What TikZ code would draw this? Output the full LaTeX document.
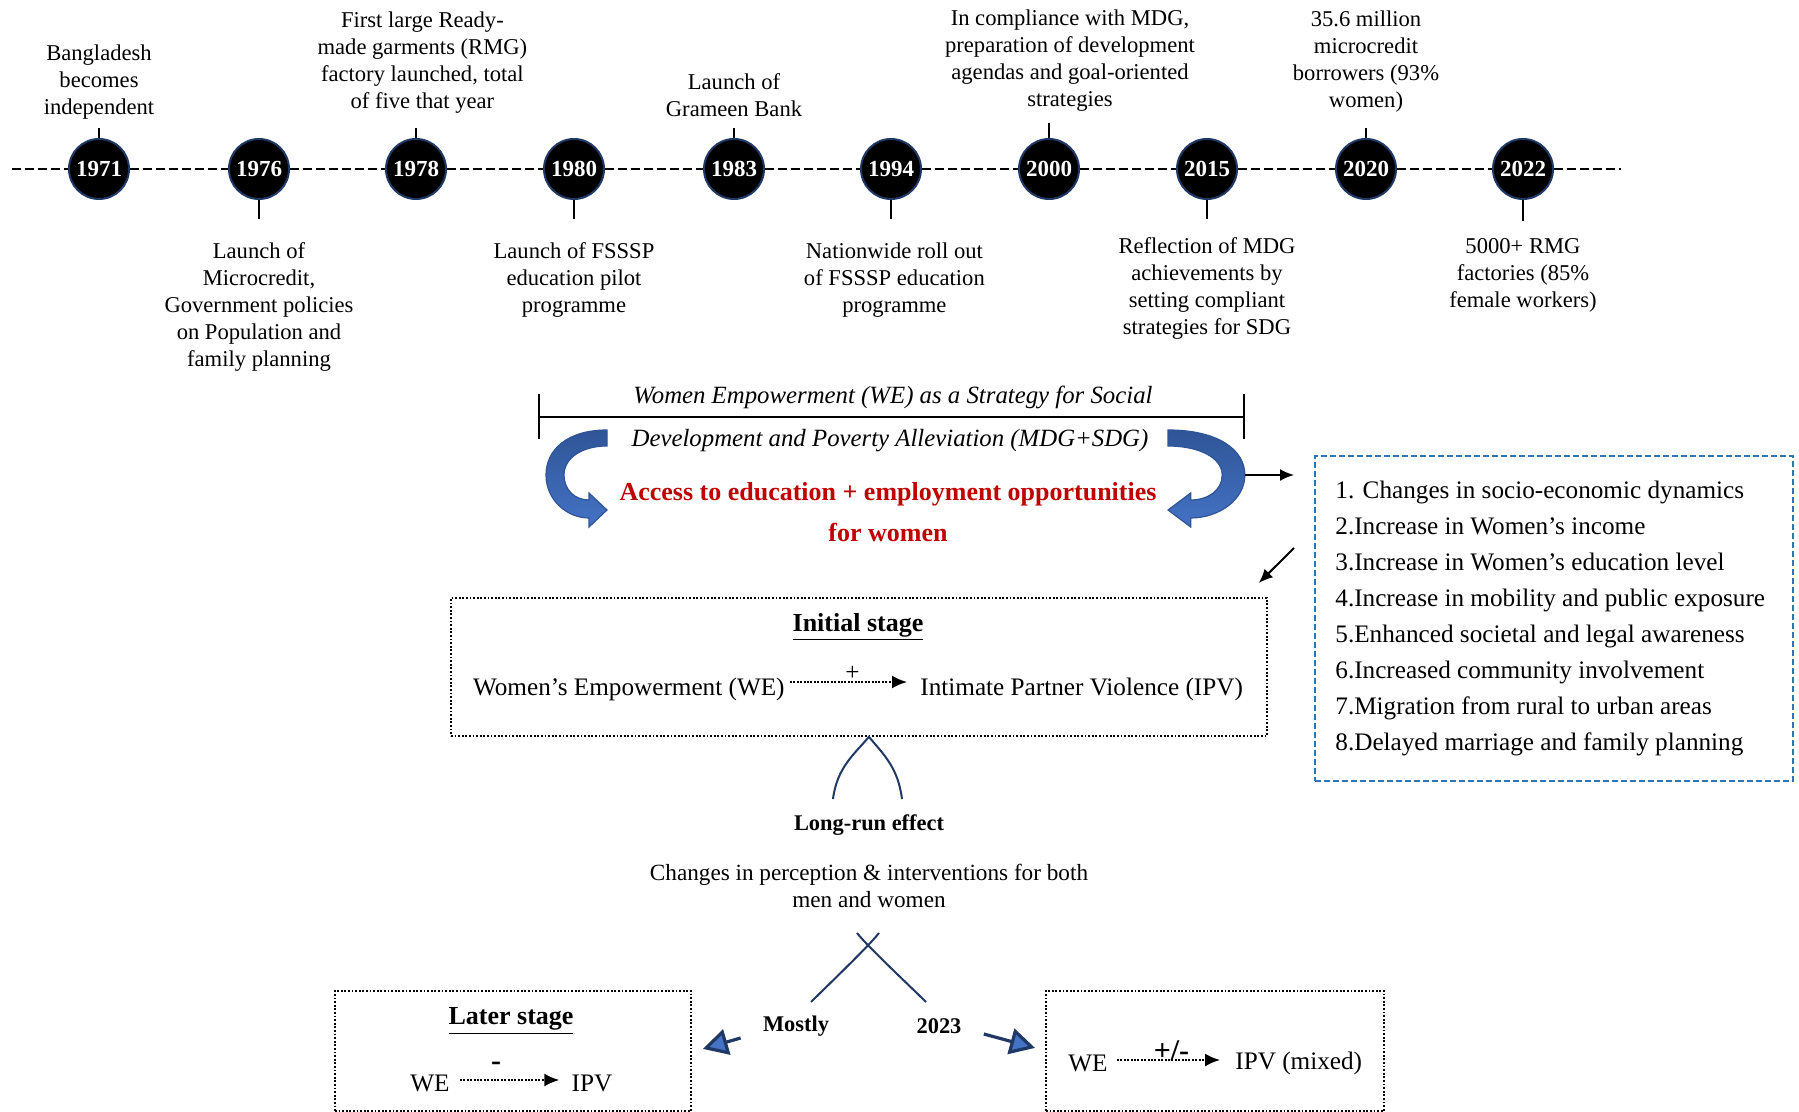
\documentclass[tikz,border=0pt]{standalone}
\usepackage{fontspec}
\setmainfont{Liberation Serif}
\usetikzlibrary{positioning,arrows.meta,calc}
\definecolor{navy}{HTML}{1F3864}
\definecolor{weblue}{HTML}{4472C4}
\definecolor{wedark}{HTML}{2F5597}
\definecolor{boxblue}{HTML}{2E75B6}
\definecolor{wered}{HTML}{C00000}
\tikzstyle{year}=[circle, fill=black, draw=navy, line width=1pt, minimum size=30pt, inner sep=0pt, text=white, font=\fontsize{11.5}{13}\selectfont\bfseries]
\tikzstyle{event}=[align=center, inner sep=0pt, font=\fontsize{11.3}{13.5}\selectfont]
\tikzstyle{tick}=[line width=0.6pt]
\tikzstyle{timeline}=[line width=1pt, dash pattern=on 4.5pt off 2pt]
\tikzstyle{bracket}=[{Bar[width=22.5pt]}-{Bar[width=22.5pt]}, line width=1pt]
\tikzstyle{strategy}=[inner sep=0pt, font=\fontsize{12.4}{14}\selectfont\itshape]
\tikzstyle{access}=[align=center, inner sep=0pt, text=wered, font=\fontsize{13}{20.5}\selectfont\bfseries]
\tikzstyle{curved arrow}=[top color=wedark, bottom color=weblue, draw=wedark, line width=0.6pt]
\tikzstyle{my arrow}=[-{Latex[length=7pt,width=6pt]}, line width=1pt]
\tikzstyle{list box}=[draw=boxblue, line width=1pt, dash pattern=on 3pt off 1.5pt, minimum width=239pt, minimum height=162.5pt, inner sep=0pt]
\tikzstyle{list text}=[align=left, inner sep=0pt, font=\fontsize{12.6}{18}\selectfont]
\tikzstyle{stage box}=[draw, line width=0.9pt, dash pattern=on 0.9pt off 0.9pt, inner sep=0pt]
\tikzstyle{stage title}=[inner sep=0pt, font=\fontsize{13}{14}\selectfont\bfseries]
\tikzstyle{stage text}=[inner sep=0pt, font=\fontsize{12.6}{14}\selectfont]
\tikzstyle{dot arrow}=[-{Latex[length=7.5pt,width=6.5pt]}, line width=1pt, dash pattern=on 1pt off 0.7pt]
\tikzstyle{arch}=[draw=navy, line width=1pt]
\tikzstyle{bold label}=[inner sep=0pt, font=\fontsize{11.2}{13}\selectfont\bfseries]
\tikzstyle{blue arrow}=[draw=navy, line width=1.6pt, -{Triangle[length=12.5pt,width=13pt,fill=weblue]}]

\begin{document}
\begin{tikzpicture}[x=0.5pt,y=-0.5pt]
\useasboundingbox (0,0) rectangle (1799,1112);

% time line
\draw (99,169) node[year] (y1971) {1971};
\draw (y1971) ++(160,0) node[year] (y1976) {1976};
\draw (y1976) ++(157,0) node[year] (y1978) {1978};
\draw (y1978) ++(158,0) node[year] (y1980) {1980};
\draw (y1980) ++(160,0) node[year] (y1983) {1983};
\draw (y1983) ++(157,0) node[year] (y1994) {1994};
\draw (y1994) ++(158,0) node[year] (y2000) {2000};
\draw (y2000) ++(158,0) node[year] (y2015) {2015};
\draw (y2015) ++(159,0) node[year] (y2020) {2020};
\draw (y2020) ++(157,0) node[year] (y2022) {2022};

\coordinate (tlstart) at (12,169);
\coordinate (tlend) at (1621,169);
\draw[timeline] (tlstart) -- (y1971);
\draw[timeline] (y1971) -- (y1976);
\draw[timeline] (y1976) -- (y1978);
\draw[timeline] (y1978) -- (y1980);
\draw[timeline] (y1980) -- (y1983);
\draw[timeline] (y1983) -- (y1994);
\draw[timeline] (y1994) -- (y2000);
\draw[timeline] (y2000) -- (y2015);
\draw[timeline] (y2015) -- (y2020);
\draw[timeline] (y2020) -- (y2022);
\draw[timeline] (y2022) -- (tlend);

% events above
\draw[tick] (y1971.north) -- ++(0,-10);
\draw node[event, above=9.3pt of y1971] (e1971) {Bangladesh\\becomes\\independent};
\draw[tick] (y1978.north) -- ++(0,-10);
\draw node[event, above=12.3pt of y1978, xshift=3.2pt] (e1978) {First large Ready-\\made garments (RMG)\\factory launched, total\\of five that year};
\draw[tick] (y1983.north) -- ++(0,-10);
\draw node[event, above=10.3pt of y1983] (e1983) {Launch of\\Grameen Bank};
\draw[tick] (y2000.north) -- ++(0,-15);
\draw node[event, above=13.3pt of y2000, xshift=10.5pt] (e2000) {In compliance with MDG,\\preparation of development\\agendas and goal-oriented\\strategies};
\draw[tick] (y2020.north) -- ++(0,-10);
\draw node[event, above=12.8pt of y2020] (e2020) {35.6 million\\microcredit\\borrowers (93\%\\women)};

% events below
\draw[tick] (y1976.south) -- ++(0,19);
\draw node[event, below=21.3pt of y1976] (e1976) {Launch of\\Microcredit,\\Government policies\\on Population and\\family planning};
\draw[tick] (y1980.south) -- ++(0,19);
\draw node[event, below=21.3pt of y1980] (e1980) {Launch of FSSSP\\education pilot\\programme};
\draw[tick] (y1994.south) -- ++(0,19);
\draw node[event, below=21.3pt of y1994, xshift=1.7pt] (e1994) {Nationwide roll out\\of FSSSP education\\programme};
\draw[tick] (y2015.south) -- ++(0,19);
\draw node[event, below=18.8pt of y2015] (e2015) {Reflection of MDG\\achievements by\\setting compliant\\strategies for SDG};
\draw[tick] (y2022.south) -- ++(0,21);
\draw node[event, below=19pt of y2022] (e2022) {5000+ RMG\\factories (85\%\\female workers)};

% strategy
\coordinate (brL) at (538,417);
\coordinate (brR) at (1245,417);
\draw[bracket] (brL) -- (brR);
\draw (893,397) node[strategy] (str1) {Women Empowerment (WE) as a Strategy for Social};
\draw (890,441) node[strategy] (str2) {Development and Poverty Alleviation (MDG+SDG)};
\draw (888,512) node[access] (access) {Access to education + employment opportunities\\for women};

\begin{scope}[shift={(607,430)}]
\path[curved arrow] (0,0) .. controls (-40,0) and (-61,20) .. (-61,45) .. controls (-61,70) and (-40,88) .. (-18,88) -- (-18,97) -- (0,80) -- (-18,63) -- (-18,70) .. controls (-32,70) and (-43,60) .. (-43,45) .. controls (-43,28) and (-25,16) .. (0,16) -- cycle;
\end{scope}
\begin{scope}[shift={(1168,430)}, xscale=-1.26]
\path[curved arrow] (0,0) .. controls (-40,0) and (-61,20) .. (-61,45) .. controls (-61,70) and (-40,88) .. (-18,88) -- (-18,97) -- (0,80) -- (-18,63) -- (-18,70) .. controls (-32,70) and (-43,60) .. (-43,45) .. controls (-43,28) and (-25,16) .. (0,16) -- cycle;
\end{scope}

% outcomes
\draw (1314,455) node[list box, anchor=north west] (list) {};
\draw (list.west) ++(21,0) node[list text, anchor=west] (items) {1. Changes in socio-economic dynamics\\2.Increase in Women’s income\\3.Increase in Women’s education level\\4.Increase in mobility and public exposure\\5.Enhanced societal and legal awareness\\6.Increased community involvement\\7.Migration from rural to urban areas\\8.Delayed marriage and family planning};

\coordinate (outR) at (1245,475);
\draw[my arrow] (outR) -- ([xshift=-10pt]list.west |- outR);

% initial stage
\draw (450,597) node[stage box, anchor=north west, minimum width=408pt, minimum height=69pt] (init) {};
\draw[my arrow] ([xshift=-10pt,yshift=-46.5pt]list.north west) -- ([xshift=-4.5pt,yshift=7pt]init.north east);
\draw (858,627) node[stage title] (inittitle) {\underline{Initial stage}};
\draw (785,689) node[stage text, anchor=east] (we1) {Women’s Empowerment (WE)};
\draw (920,689) node[stage text, anchor=west] (ipv1) {Intimate Partner Violence (IPV)};
\draw[dot arrow, shorten <=2.5pt, shorten >=6.5pt] ([yshift=3.5pt]we1.east) -- ([yshift=3.5pt]ipv1.west) node[midway, above=0.5pt, stage text] {+};

% long run
\coordinate (archL) at (833,799);
\coordinate (archR) at (902,799);
\draw[arch] (archL) .. controls +(4,-32) and +(-14,17) .. ([xshift=5pt]init.south) .. controls +(14,17) and +(-4,-32) .. (archR);
\draw (869,825) node[bold label] (longrun) {Long-run effect};
\draw (869,886) node[event, font=\fontsize{11.6}{13.5}\selectfont] (changes) {Changes in perception \& interventions for both\\men and women};

\draw (796,1026) node[bold label] (mostly) {Mostly};
\draw (939,1026) node[bold label] (y2023) {2023};
\coordinate (crossL) at (857,933);
\coordinate (crossR) at (879,933);
\draw[arch] (crossR) .. controls +(-11,14) and +(14,-14) .. ([xshift=7.5pt,yshift=12pt]mostly.center);
\draw[arch] (crossL) .. controls +(11,14) and +(-14,-14) .. ([xshift=-6.5pt,yshift=12pt]y2023.center);

% later stage
\draw (334,990) node[stage box, anchor=north west, minimum width=178pt, minimum height=60pt] (later) {};
\draw (511,1021) node[stage title] (latertitle) {\underline{Later stage}};
\draw (430,1083) node[stage text] (we2) {WE};
\draw (592,1083) node[stage text] (ipv2) {IPV};
\draw[dot arrow, shorten <=5pt, shorten >=6pt] ([yshift=1.5pt]we2.east) -- ([yshift=1.5pt]ipv2.west) node[pos=0.38, yshift=7pt, font=\fontsize{15}{15}\selectfont\bfseries] {-};

% mixed
\draw (1045,990) node[stage box, anchor=north west, minimum width=169pt, minimum height=60pt] (mixed) {};
\draw (1088,1063) node[stage text] (we3) {WE};
\draw (1235,1063) node[stage text, anchor=west] (ipv3) {IPV (mixed)};
\draw[dot arrow, shorten <=4.5pt, shorten >=7.5pt] ([yshift=1.5pt]we3.east) -- ([yshift=1.5pt]ipv3.west) node[midway, yshift=4.5pt, font=\fontsize{15}{15}\selectfont\bfseries] {+/-};

\draw[blue arrow] ([xshift=-11pt,yshift=-6pt]mostly.west) -- ([xshift=5.5pt,yshift=1pt]later.east);
\draw[blue arrow] ([xshift=11pt,yshift=-4pt]y2023.east) -- ([xshift=-5pt,yshift=1.5pt]mixed.west);

\end{tikzpicture}
\end{document}
